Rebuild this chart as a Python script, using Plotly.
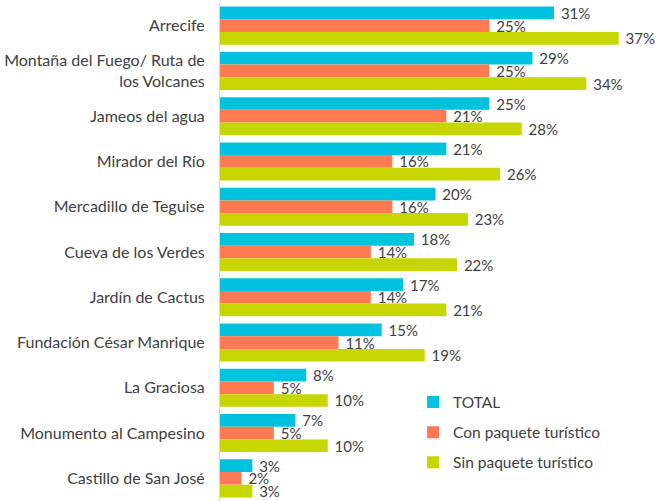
import plotly.graph_objects as go

# datos (%)
categorias = [
    "Arrecife",
    "Montaña del Fuego/ Ruta de<br>los Volcanes",
    "Jameos del agua",
    "Mirador del Río",
    "Mercadillo de Teguise",
    "Cueva de los Verdes",
    "Jardín de Cactus",
    "Fundación César Manrique",
    "La Graciosa",
    "Monumento al Campesino",
    "Castillo de San José",
]
total = [31, 29, 25, 21, 20, 18, 17, 15, 8, 7, 3]
con_paquete = [25, 25, 21, 16, 16, 14, 14, 11, 5, 5, 2]
sin_paquete = [37, 34, 28, 26, 23, 22, 21, 19, 10, 10, 3]

series = [
    ("TOTAL", total, "#00C1DE"),
    ("Con paquete turístico", con_paquete, "#FF7A52"),
    ("Sin paquete turístico", sin_paquete, "#C5D600"),
]

FONT = "Lato, 'Open Sans', sans-serif"
GRIS = "#404040"

fig = go.Figure()
for i, (nombre, vals, color) in enumerate(series):
    fig.add_trace(go.Bar(
        y=categorias, x=vals, name=nombre, orientation="h",
        marker=dict(color=color, line=dict(width=0)),
        # espacio duro para separar la etiqueta del final de la barra
        text=[f"\u00a0{v}%" for v in vals], textposition="outside",
        textfont=dict(size=15, color=GRIS, family=FONT),
        constraintext="none", cliponaxis=False, legendgroup=f"g{i}",
    ))

fig.update_layout(
    width=657, height=501,
    barmode="group", bargap=0.16, bargroupgap=0,
    plot_bgcolor="white", paper_bgcolor="white",
    margin=dict(l=220, r=6, t=3, b=0, autoexpand=False),
    font=dict(family=FONT, size=15, color=GRIS),
    legend=dict(
        x=0.448, y=0.232, xanchor="left", yanchor="top",
        traceorder="grouped", tracegroupgap=7,
        font=dict(size=15.5, color=GRIS), itemwidth=30,
        bgcolor="rgba(0,0,0,0)",
    ),
)
fig.update_xaxes(range=[0, 40], visible=False, automargin=False)
fig.update_yaxes(
    autorange="reversed", showline=True, linecolor="#D9D9D9", linewidth=1,
    ticks="", ticklabelstandoff=11, tickfont=dict(size=16, color=GRIS),
    showgrid=False, automargin=False,
)

# quitar el margen por defecto del body para que la figura ocupe toda la ventana
fig.write_html("out.html", config={"displayModeBar": False},
               post_script="document.body.style.margin='0';")
